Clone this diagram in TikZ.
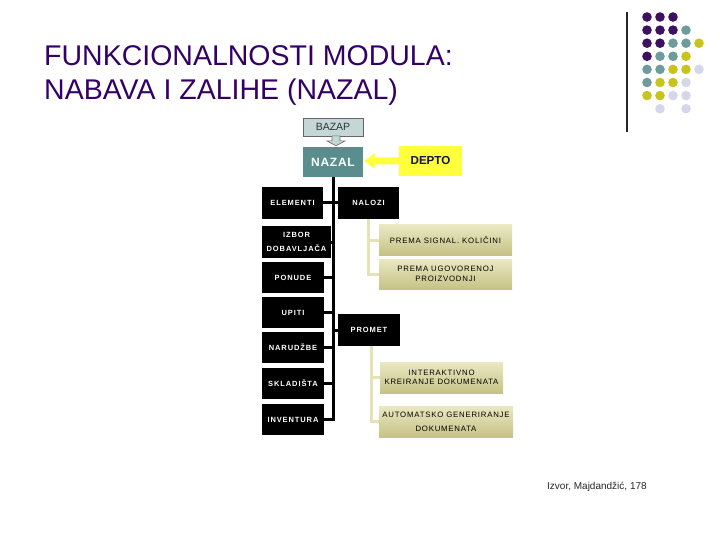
\documentclass[tikz,border=0pt]{standalone}
\usepackage{fontspec}
\setmainfont{Liberation Sans}
\newfontfamily\boxfont[LetterSpace=10]{Liberation Sans}
\newfontfamily\blackboxfont[LetterSpace=12]{Liberation Sans}
\newfontfamily\nazalfont[LetterSpace=6]{Liberation Sans}
\usetikzlibrary{calc}
\definecolor{titlepurple}{RGB}{51,0,102}
\definecolor{dotP}{RGB}{61,16,96}
\definecolor{dotT}{RGB}{110,156,156}
\definecolor{dotY}{RGB}{200,196,30}
\definecolor{dotL}{RGB}{214,214,234}
\definecolor{nazalteal}{RGB}{90,142,142}
\definecolor{bazapfill}{RGB}{196,214,214}
\definecolor{depyellow}{RGB}{255,255,60}
\definecolor{olivetop}{RGB}{234,232,194}
\definecolor{olivebot}{RGB}{198,194,134}
\definecolor{treeline}{RGB}{230,226,180}
\definecolor{deptotext}{RGB}{20,20,60}
\tikzset{
  blackbox/.style={fill=black, text=white, font=\blackboxfont\bfseries\fontsize{7.5}{14}\selectfont,
    align=center, inner sep=0pt, minimum width=62pt, minimum height=31pt},
  olivebox/.style={top color=olivetop, bottom color=olivebot, text=black,
    font=\boxfont\fontsize{7.8}{9.5}\selectfont, align=center, inner sep=0pt,
    minimum height=30pt},
  spineline/.style={line width=3pt, black},
  treeconn/.style={line width=3pt, treeline},
}
\begin{document}
\begin{tikzpicture}[x=1pt,y=-1pt]
\path[use as bounding box] (0,0) rectangle (720,540);

% title
\node[anchor=base west, inner sep=0pt, text=titlepurple, font=\fontsize{28.5}{34}\selectfont]
  (title1) at (44,66) {FUNKCIONALNOSTI MODULA:};
\node[anchor=base west, inner sep=0pt, text=titlepurple, font=\fontsize{28.5}{34}\selectfont]
  (title2) at (44,100) {NABAVA I ZALIHE (NAZAL)};

% decoration: line and dots
\draw[line width=1.2pt, black!85] (627,12) -- (627,132);
\foreach \c/\r/\col in {1/1/dotP,2/1/dotP,3/1/dotP,
  1/2/dotP,2/2/dotP,3/2/dotP,4/2/dotT,
  1/3/dotP,2/3/dotP,3/3/dotT,4/3/dotT,5/3/dotY,
  1/4/dotP,2/4/dotT,3/4/dotT,4/4/dotY,
  1/5/dotT,2/5/dotT,3/5/dotY,4/5/dotY,5/5/dotL,
  1/6/dotT,2/6/dotY,3/6/dotY,4/6/dotL,
  1/7/dotY,2/7/dotY,3/7/dotL,4/7/dotL,
  2/8/dotL,4/8/dotL}
  \fill[\col] ({647+13*(\c-1)},{17+13.1*(\r-1)}) circle (4.8);

% top nodes
\node[draw=black!60, line width=0.8pt, fill=bazapfill, text=black!80, inner sep=0pt,
  minimum width=60pt, minimum height=18pt, font=\fontsize{10.5}{12}\selectfont]
  (bazap) at (333,127) {BAZAP};
\node[fill=nazalteal, text=white, inner sep=0pt, minimum width=60pt, minimum height=30pt,
  font=\nazalfont\bfseries\fontsize{12}{14}\selectfont] (nazal) at (333,162) {NAZAL};
\node[fill=depyellow, text=deptotext, inner sep=0pt, minimum width=63pt, minimum height=30pt,
  font=\bfseries\fontsize{11.6}{14}\selectfont] (depto) at (430.5,161) {DEPTO};

% BAZAP -> NAZAL block arrow
\coordinate (ba) at ($(bazap.south)+(3,0)$);
\filldraw[fill=bazapfill, draw=black!55, line width=0.7pt]
  ($(ba)+(-4,-0.5)$) -- ($(ba)+(4,-0.5)$) -- ($(ba)+(4,4.5)$) -- ($(ba)+(9,4.5)$)
  -- ($(ba |- nazal.north)+(0,-1)$) -- ($(ba)+(-9,4.5)$) -- ($(ba)+(-4,4.5)$) -- cycle;

% DEPTO -> NAZAL block arrow
\coordinate (tip) at ($(nazal.east |- depto.west)+(1,0)$);
\fill[depyellow] (tip) -- ($(tip)+(11,-8)$) -- ($(tip)+(11,-3.5)$)
  -- ($(depto.west)+(0,-3.5)$) -- ($(depto.west)+(0,3.5)$)
  -- ($(tip)+(11,3.5)$) -- ($(tip)+(11,8)$) -- cycle;

% left column
\node[blackbox, minimum width=61pt, minimum height=32pt] (elementi) at (292.5,203) {ELEMENTI};
\node[blackbox, minimum width=69pt, minimum height=32pt] (izbor) at (296.5,242) {IZBOR\\DOBAVLJAČA};
\node[blackbox] (ponude) at (293,277.5) {PONUDE};
\node[blackbox] (upiti) at (293,312.5) {UPITI};
\node[blackbox] (narudzbe) at (293,347.5) {NARUDŽBE};
\node[blackbox] (skladista) at (293,383) {SKLADIŠTA};
\node[blackbox] (inventura) at (293,419.5) {INVENTURA};

% right column
\node[blackbox, minimum width=61pt, minimum height=32pt] (nalozi) at (368.5,203) {NALOZI};
\node[blackbox, minimum height=32pt] (promet) at (369,330) {PROMET};

\node[olivebox, minimum width=133pt] (psk) at (445.5,240) {PREMA SIGNAL. KOLIČINI};
\node[olivebox, minimum width=133pt] (pup) at (445.5,274) {PREMA UGOVORENOJ\\PROIZVODNJI};
\node[olivebox, minimum width=123pt, minimum height=31pt] (ikd) at (441.5,377.5) {INTERAKTIVNO\\KREIRANJE DOKUMENATA};
\node[olivebox, minimum width=134pt, minimum height=31pt, font=\boxfont\fontsize{7.8}{14}\selectfont]
  (agd) at (446,421.5) {AUTOMATSKO GENERIRANJE\\DOKUMENATA};

% spine and connectors
\draw[spineline] (nazal.south) -- (nazal.south |- inventura.east) -- (inventura.east);
\draw[spineline] (elementi.east) -- (nalozi.west);
\draw[spineline] (izbor.east) -- (izbor.east -| nazal.south);
\draw[spineline] (ponude.east) -- (ponude.east -| nazal.south);
\draw[spineline] (upiti.east) -- (upiti.east -| nazal.south);
\draw[spineline] (narudzbe.east) -- (narudzbe.east -| nazal.south);
\draw[spineline] (skladista.east) -- (skladista.east -| nazal.south);
\draw[spineline] (promet.west -| nazal.south) -- (promet.west);

% tree connectors
\draw[treeconn] (nalozi.south) |- (pup.west);
\draw[treeconn] (nalozi.south) |- (psk.west);
\draw[treeconn] ($(promet.south)+(2,0)$) |- (agd.west);
\draw[treeconn] ($(promet.south)+(2,0)$) |- (ikd.west);

% footer
\node[anchor=west, inner sep=0pt, text=black!85, font=\fontsize{10}{12}\selectfont]
  (izvor) at (547,487) {Izvor, Majdandžić, 178};
\end{tikzpicture}
\end{document}
